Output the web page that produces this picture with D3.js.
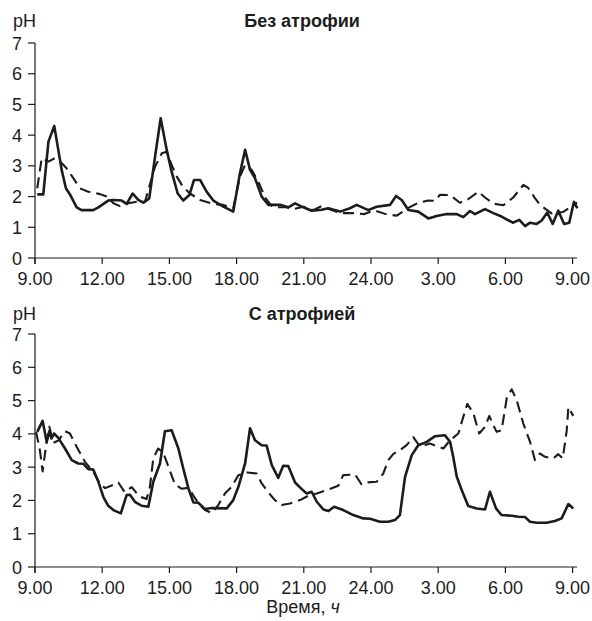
<!DOCTYPE html>
<html>
<head>
<meta charset="utf-8">
<script src="https://cdn.jsdelivr.net/npm/d3@7"></script>
<style>
  html, body { margin: 0; padding: 0; background: #fff; }
  svg { display: block; font-family: "Liberation Sans", Arial, sans-serif; }
</style>
</head>
<body>
<svg id="chart" width="592" height="621"></svg>
<script>
// Time axis: hours elapsed since 9.00, one full day
const xTickHours = [0, 3, 6, 9, 12, 15, 18, 21, 24];
const xTickLabels = ["9.00", "12.00", "15.00", "18.00", "21.00", "24.00", "3.00", "6.00", "9.00"];
const yTicks = [0, 1, 2, 3, 4, 5, 6, 7];

// Без атрофии — solid curve [hour, pH]
const topSolid = [
  [0.1, 2.07], [0.37, 2.07], [0.6, 3.79], [0.86, 4.3], [1.19, 2.87], [1.38, 2.27], [1.56, 2.07],
  [1.86, 1.65], [2.08, 1.56], [2.6, 1.56], [2.83, 1.65], [3.27, 1.87], [3.5, 1.89], [3.87, 1.87],
  [4.09, 1.76], [4.36, 2.1], [4.61, 1.89], [4.84, 1.8], [5.1, 1.94], [5.36, 3.3], [5.61, 4.55],
  [5.88, 3.52], [6.1, 2.81], [6.37, 2.1], [6.62, 1.87], [6.89, 2.05], [7.1, 2.54], [7.37, 2.54],
  [7.66, 2.16], [7.96, 1.87], [8.41, 1.67], [8.85, 1.51], [9.15, 2.76], [9.38, 3.52], [9.6, 2.87],
  [9.82, 2.6], [10.12, 2.0], [10.42, 1.73], [10.94, 1.73], [11.31, 1.65], [11.61, 1.78],
  [11.98, 1.65], [12.35, 1.54], [12.8, 1.57], [13.09, 1.62], [13.62, 1.51], [14.06, 1.62],
  [14.36, 1.73], [14.88, 1.56], [15.25, 1.67], [15.85, 1.73], [16.12, 2.02], [16.37, 1.89],
  [16.67, 1.56], [17.11, 1.51], [17.56, 1.29], [17.93, 1.37], [18.38, 1.43], [18.83, 1.43],
  [19.12, 1.33], [19.42, 1.53], [19.64, 1.43], [20.09, 1.59], [20.46, 1.46], [20.83, 1.35],
  [21.33, 1.15], [21.62, 1.24], [21.88, 1.04], [22.1, 1.15], [22.4, 1.11], [22.62, 1.22],
  [22.87, 1.48], [23.11, 1.11], [23.36, 1.54], [23.62, 1.11], [23.85, 1.15], [24.06, 1.83],
  [24.21, 1.62]
];

// Без атрофии — dashed curve
const topDashed = [
  [0.1, 2.27], [0.3, 3.25], [0.6, 3.14], [0.89, 3.25], [1.12, 3.14], [1.41, 2.92], [1.71, 2.6],
  [2.0, 2.27], [2.38, 2.16], [2.9, 2.08], [3.2, 2.0], [3.5, 1.78], [3.79, 1.69], [4.17, 1.78],
  [4.54, 1.83], [4.91, 1.83], [5.1, 2.32], [5.36, 2.97], [5.66, 3.41], [5.88, 3.46], [6.1, 3.03],
  [6.33, 2.65], [6.62, 2.3], [6.92, 2.1], [7.37, 1.89], [7.96, 1.76], [8.39, 1.73], [8.85, 1.62],
  [9.15, 2.65], [9.38, 3.03], [9.67, 2.87], [9.97, 2.49], [10.27, 1.97], [10.56, 1.7],
  [10.9, 1.65], [11.2, 1.65], [11.6, 1.6], [11.98, 1.67], [12.42, 1.56], [12.8, 1.69],
  [13.24, 1.56], [13.66, 1.46], [14.2, 1.46], [14.7, 1.43], [15.15, 1.55], [15.7, 1.42],
  [16.15, 1.38], [16.67, 1.63], [17.11, 1.8], [17.56, 1.87], [17.86, 1.86], [18.08, 2.06],
  [18.53, 2.05], [18.97, 1.8], [19.35, 1.92], [19.79, 2.16], [20.09, 1.97], [20.46, 1.77],
  [20.91, 1.72], [21.35, 1.97], [21.8, 2.38], [22.02, 2.28], [22.32, 1.95], [22.54, 1.73],
  [23.06, 1.45], [23.58, 1.5], [24.03, 1.72], [24.2, 1.8]
];

// С атрофией — solid curve
const bottomSolid = [
  [0.1, 4.06], [0.34, 4.39], [0.52, 3.76], [0.64, 4.08], [0.74, 3.86], [0.85, 4.01], [1.04, 3.88],
  [1.34, 3.56], [1.64, 3.21], [1.93, 3.11], [2.16, 3.1], [2.38, 2.94], [2.6, 2.93], [2.83, 2.56],
  [3.05, 2.11], [3.27, 1.84], [3.5, 1.71], [3.83, 1.61], [4.09, 2.16], [4.24, 2.17], [4.46, 1.96],
  [4.76, 1.84], [5.06, 1.81], [5.28, 2.56], [5.58, 3.11], [5.8, 4.08], [6.1, 4.11], [6.4, 3.56],
  [6.62, 2.96], [6.85, 2.36], [7.07, 1.94], [7.29, 1.93], [7.59, 1.74], [7.89, 1.77],
  [8.56, 1.76], [8.85, 2.01], [9.08, 2.41], [9.38, 3.11], [9.6, 4.17], [9.82, 3.81],
  [10.12, 3.66], [10.34, 3.65], [10.57, 3.06], [10.86, 2.68], [11.08, 3.04], [11.31, 3.03],
  [11.61, 2.54], [11.91, 2.34], [12.13, 2.21], [12.35, 2.26], [12.58, 1.96], [12.87, 1.73],
  [13.1, 1.68], [13.35, 1.81], [13.76, 1.71], [14.21, 1.56], [14.66, 1.46], [14.96, 1.45],
  [15.4, 1.36], [15.77, 1.36], [16.07, 1.41], [16.29, 1.56], [16.52, 2.71], [16.82, 3.36],
  [17.11, 3.66], [17.49, 3.76], [17.86, 3.93], [18.3, 3.96], [18.53, 3.76], [18.67, 3.31],
  [18.83, 2.71], [19.05, 2.31], [19.34, 1.83], [19.72, 1.76], [20.09, 1.73], [20.31, 2.26],
  [20.58, 1.76], [20.83, 1.56], [21.28, 1.54], [21.58, 1.51], [21.88, 1.5], [22.1, 1.36],
  [22.4, 1.33], [22.84, 1.33], [23.21, 1.38], [23.51, 1.46], [23.81, 1.89], [24.03, 1.76]
];

// С атрофией — dashed curve
const bottomDashed = [
  [0.05, 4.06], [0.22, 3.5], [0.34, 2.87], [0.49, 3.63], [0.64, 4.21], [0.82, 3.73], [1.04, 3.8],
  [1.34, 4.08], [1.56, 4.01], [1.86, 3.61], [2.23, 3.16], [2.6, 2.86], [2.9, 2.5], [3.13, 2.37],
  [3.42, 2.45], [3.72, 2.54], [4.0, 2.25], [4.32, 2.4], [4.64, 2.13], [4.98, 2.04], [5.13, 2.41],
  [5.28, 3.26], [5.5, 3.56], [5.73, 3.43], [6.0, 2.93], [6.25, 2.48], [6.55, 2.35], [6.85, 2.38],
  [7.15, 2.06], [7.37, 1.85], [7.59, 1.71], [7.89, 1.62], [8.18, 1.86], [8.48, 2.21],
  [8.78, 2.41], [9.08, 2.76], [9.45, 2.84], [9.9, 2.81], [10.12, 2.51], [10.42, 2.24],
  [10.71, 2.01], [11.01, 1.86], [11.38, 1.91], [11.83, 2.01], [12.2, 2.14], [12.58, 2.21],
  [13.02, 2.31], [13.54, 2.44], [13.76, 2.76], [14.29, 2.78], [14.58, 2.48], [14.81, 2.54],
  [15.25, 2.56], [15.55, 2.81], [15.77, 3.21], [16.0, 3.4], [16.29, 3.51], [16.59, 3.66],
  [16.89, 3.9], [17.19, 3.61], [17.63, 3.71], [18.23, 3.56], [18.53, 3.81], [18.9, 4.01],
  [19.12, 4.51], [19.3, 4.9], [19.57, 4.62], [19.83, 4.01], [20.09, 4.21], [20.28, 4.54],
  [20.46, 4.26], [20.61, 4.06], [20.83, 4.11], [21.06, 5.07], [21.28, 5.34], [21.5, 5.02],
  [21.8, 4.31], [22.1, 3.76], [22.32, 3.21], [22.54, 3.41], [22.77, 3.31], [23.14, 3.26],
  [23.36, 3.39], [23.56, 3.26], [23.74, 4.11], [23.81, 4.8], [24.03, 4.54]
];

const svg = d3.select("#chart");
const FONT = 18;
const INK = "#1c1c1c";

function panel(cfg) {
  const x = d3.scaleLinear().domain([0, 24]).range([35, 572.6]);
  const y = d3.scaleLinear().domain([0, 7]).range([cfg.y0, cfg.y7]);
  const g = svg.append("g");

  // axis lines
  g.append("line")
    .attr("x1", x(0)).attr("x2", 577)
    .attr("y1", y(0)).attr("y2", y(0))
    .attr("stroke", INK).attr("stroke-width", 1.2);
  g.append("line")
    .attr("x1", x(0)).attr("x2", x(0))
    .attr("y1", y(7)).attr("y2", y(0) + 6)
    .attr("stroke", INK).attr("stroke-width", 1.2);

  // y ticks and labels
  g.selectAll(".yt").data(yTicks).join("line")
    .attr("x1", x(0) - 7).attr("x2", x(0))
    .attr("y1", d => y(d)).attr("y2", d => y(d))
    .attr("stroke", INK).attr("stroke-width", 1.2);
  g.selectAll(".yl").data(yTicks).join("text")
    .attr("x", 22).attr("y", d => y(d) + 6.5)
    .attr("text-anchor", "end")
    .attr("font-size", FONT).attr("fill", INK)
    .text(d => d);

  // x ticks and labels
  g.selectAll(".xt").data(xTickHours).join("line")
    .attr("x1", d => x(d)).attr("x2", d => x(d))
    .attr("y1", y(0)).attr("y2", y(0) + 6)
    .attr("stroke", INK).attr("stroke-width", 1.2);
  g.selectAll(".xl").data(xTickHours).join("text")
    .attr("x", d => x(d)).attr("y", y(0) + 27)
    .attr("text-anchor", "middle")
    .attr("font-size", FONT).attr("fill", INK)
    .text((d, i) => xTickLabels[i]);

  // unit label and title
  g.append("text").attr("x", 13).attr("y", cfg.titleY)
    .attr("font-size", FONT).attr("fill", INK).text("pH");
  g.append("text").attr("x", 302).attr("y", cfg.titleY)
    .attr("text-anchor", "middle").attr("font-weight", "bold")
    .attr("font-size", 18).attr("fill", INK).text(cfg.title);

  const line = d3.line().x(d => x(d[0])).y(d => y(d[1]));
  g.append("path").datum(cfg.dashed).attr("d", line)
    .attr("fill", "none").attr("stroke", INK).attr("stroke-width", 2.1)
    .attr("stroke-dasharray", "11,6").attr("stroke-linejoin", "round");
  g.append("path").datum(cfg.solid).attr("d", line)
    .attr("fill", "none").attr("stroke", INK).attr("stroke-width", 2.6)
    .attr("stroke-linejoin", "round");
}

panel({ y0: 258, y7: 43, titleY: 27, title: "Без атрофии", solid: topSolid, dashed: topDashed });
panel({ y0: 567, y7: 334, titleY: 320, title: "С атрофией", solid: bottomSolid, dashed: bottomDashed });

// shared time caption
const cap = svg.append("text").attr("x", 303).attr("y", 613)
  .attr("text-anchor", "middle").attr("font-size", 18).attr("fill", INK);
cap.append("tspan").text("Время, ");
cap.append("tspan").attr("font-style", "italic").text("ч");
</script>
</body>
</html>
